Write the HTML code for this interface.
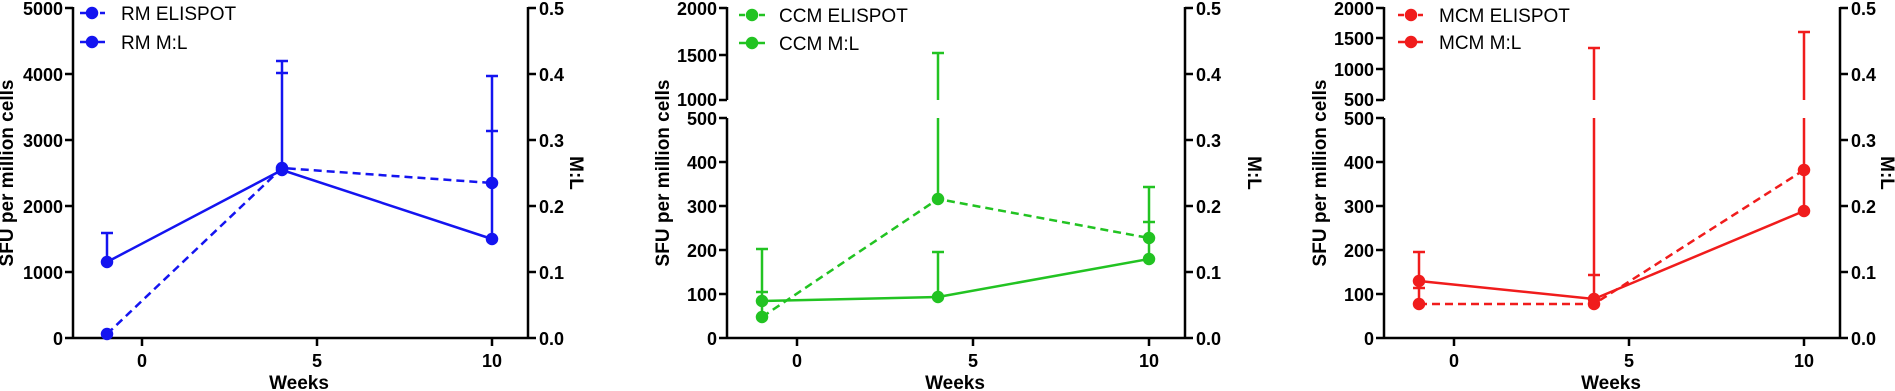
<!DOCTYPE html>
<html><head><meta charset="utf-8"><style>
body{margin:0;background:#fff}
svg{display:block}
text{font-family:"Liberation Sans",Arial,sans-serif}
.t{font-size:18px;font-weight:bold;fill:#000}
.ax{stroke:#000;stroke-width:2.5;fill:none}
.lg{font-size:19px;fill:#000}
.ti{font-size:19px;font-weight:bold;fill:#000}
</style></head><body>
<svg width="1895" height="391" viewBox="0 0 1895 391">
<!-- PANEL 1 -->
<g>
<path class="ax" d="M73 7V338H528V7M65 8H73M65 74H73M65 140H73M65 206H73M65 272H73M65 338H73M528 8H536M528 74H536M528 140H536M528 206H536M528 272H536M528 338H536M142 338V346M317 338V346M492 338V346"/>
<g class="t" text-anchor="end"><text x="63" y="15">5000</text><text x="63" y="81">4000</text><text x="63" y="147">3000</text><text x="63" y="213">2000</text><text x="63" y="279">1000</text><text x="63" y="345">0</text></g>
<g class="t"><text x="539" y="15">0.5</text><text x="539" y="81">0.4</text><text x="539" y="147">0.3</text><text x="539" y="213">0.2</text><text x="539" y="279">0.1</text><text x="539" y="345">0.0</text></g>
<g class="t" text-anchor="middle"><text x="142" y="367">0</text><text x="317" y="367">5</text><text x="492" y="367">10</text></g>
<text class="ti" x="299" y="389" text-anchor="middle">Weeks</text>
<text class="ti" transform="translate(8,173) rotate(-90)" text-anchor="middle" dominant-baseline="middle">SFU per million cells</text>
<text class="ti" transform="translate(575,173) rotate(90)" text-anchor="middle" dominant-baseline="middle">M:L</text>
<g stroke="#1414f0" stroke-width="2.5" fill="#1414f0">
<path d="M107 262V233M101 233H113M282 170V61M276 61H288M276 73H288M492 239V76M486 76H498M486 131H498" fill="none"/>
<path d="M107 334L282 168L492 183" fill="none" stroke-dasharray="8,5"/>
<path d="M107 262L282 170L492 239" fill="none"/>
<circle cx="107" cy="334" r="5"/><circle cx="282" cy="168" r="5"/><circle cx="492" cy="183" r="5"/>
<circle cx="107" cy="262" r="5"/><circle cx="282" cy="170" r="5"/><circle cx="492" cy="239" r="5"/>
<path d="M80 13H105" fill="none" stroke-dasharray="6,4"/><circle cx="92" cy="13" r="5"/>
<path d="M80 42H105" fill="none"/><circle cx="92" cy="42" r="5"/>
</g>
<text class="lg" x="121" y="20">RM ELISPOT</text><text class="lg" x="121" y="49">RM M:L</text>
</g>
<!-- PANEL 2 -->
<g>
<path class="ax" d="M727 7V100M727 118V338H1185V7M719 8H727M719 55H727M719 100H727M719 118H727M719 162H727M719 206H727M719 250H727M719 294H727M719 338H727M1185 8H1193M1185 74H1193M1185 140H1193M1185 206H1193M1185 272H1193M1185 338H1193M797 338V346M973 338V346M1149 338V346"/>
<g class="t" text-anchor="end"><text x="717" y="15">2000</text><text x="717" y="62">1500</text><text x="717" y="106">1000</text><text x="717" y="125">500</text><text x="717" y="169">400</text><text x="717" y="213">300</text><text x="717" y="257">200</text><text x="717" y="301">100</text><text x="717" y="345">0</text></g>
<g class="t"><text x="1196" y="15">0.5</text><text x="1196" y="81">0.4</text><text x="1196" y="147">0.3</text><text x="1196" y="213">0.2</text><text x="1196" y="279">0.1</text><text x="1196" y="345">0.0</text></g>
<g class="t" text-anchor="middle"><text x="797" y="367">0</text><text x="973" y="367">5</text><text x="1149" y="367">10</text></g>
<text class="ti" x="955" y="389" text-anchor="middle">Weeks</text>
<text class="ti" transform="translate(664,173) rotate(-90)" text-anchor="middle" dominant-baseline="middle">SFU per million cells</text>
<text class="ti" transform="translate(1253,173) rotate(90)" text-anchor="middle" dominant-baseline="middle">M:L</text>
<g stroke="#22c322" stroke-width="2.5" fill="#22c322">
<path d="M762 317V249M756 249H768M756 292H768M938 199V118M938 100V53M932 53H944M938 297V252M932 252H944M1149 259V187M1143 187H1155M1143 222H1155" fill="none"/>
<path d="M762 317L938 199L1149 238" fill="none" stroke-dasharray="8,5"/>
<path d="M762 301L938 297L1149 259" fill="none"/>
<circle cx="762" cy="317" r="5"/><circle cx="938" cy="199" r="5"/><circle cx="1149" cy="238" r="5"/>
<circle cx="762" cy="301" r="5"/><circle cx="938" cy="297" r="5"/><circle cx="1149" cy="259" r="5"/>
<path d="M739 15H765" fill="none" stroke-dasharray="6,4"/><circle cx="752" cy="15" r="5"/>
<path d="M739 43H765" fill="none"/><circle cx="752" cy="43" r="5"/>
</g>
<text class="lg" x="779" y="22">CCM ELISPOT</text><text class="lg" x="779" y="50">CCM M:L</text>
</g>
<!-- PANEL 3 -->
<g>
<path class="ax" d="M1384 7V100M1384 118V338H1840V7M1376 8H1384M1376 38H1384M1376 69H1384M1376 100H1384M1376 118H1384M1376 162H1384M1376 206H1384M1376 250H1384M1376 294H1384M1376 338H1384M1840 8H1848M1840 74H1848M1840 140H1848M1840 206H1848M1840 272H1848M1840 338H1848M1454 338V346M1629 338V346M1804 338V346"/>
<g class="t" text-anchor="end"><text x="1374" y="15">2000</text><text x="1374" y="45">1500</text><text x="1374" y="76">1000</text><text x="1374" y="106">500</text><text x="1374" y="125">500</text><text x="1374" y="169">400</text><text x="1374" y="213">300</text><text x="1374" y="257">200</text><text x="1374" y="301">100</text><text x="1374" y="345">0</text></g>
<g class="t"><text x="1851" y="15">0.5</text><text x="1851" y="81">0.4</text><text x="1851" y="147">0.3</text><text x="1851" y="213">0.2</text><text x="1851" y="279">0.1</text><text x="1851" y="345">0.0</text></g>
<g class="t" text-anchor="middle"><text x="1454" y="367">0</text><text x="1629" y="367">5</text><text x="1804" y="367">10</text></g>
<text class="ti" x="1611" y="389" text-anchor="middle">Weeks</text>
<text class="ti" transform="translate(1321,173) rotate(-90)" text-anchor="middle" dominant-baseline="middle">SFU per million cells</text>
<text class="ti" transform="translate(1886,173) rotate(90)" text-anchor="middle" dominant-baseline="middle">M:L</text>
<g stroke="#f01c1c" stroke-width="2.5" fill="#f01c1c">
<path d="M1419 304V252M1413 252H1425M1413 288H1425M1594 304V118M1594 100V48M1588 48H1600M1588 275H1600M1804 211V118M1804 100V32M1798 32H1810" fill="none"/>
<path d="M1419 304L1594 304L1804 170" fill="none" stroke-dasharray="8,5"/>
<path d="M1419 281L1594 299L1804 211" fill="none"/>
<circle cx="1419" cy="304" r="5"/><circle cx="1594" cy="304" r="5"/><circle cx="1804" cy="170" r="5"/>
<circle cx="1419" cy="281" r="5"/><circle cx="1594" cy="299" r="5"/><circle cx="1804" cy="211" r="5"/>
<path d="M1398 15H1423" fill="none" stroke-dasharray="6,4"/><circle cx="1411" cy="15" r="5"/>
<path d="M1398 42H1423" fill="none"/><circle cx="1411" cy="42" r="5"/>
</g>
<text class="lg" x="1439" y="22">MCM ELISPOT</text><text class="lg" x="1439" y="49">MCM M:L</text>
</g>
</svg>
</body></html>
